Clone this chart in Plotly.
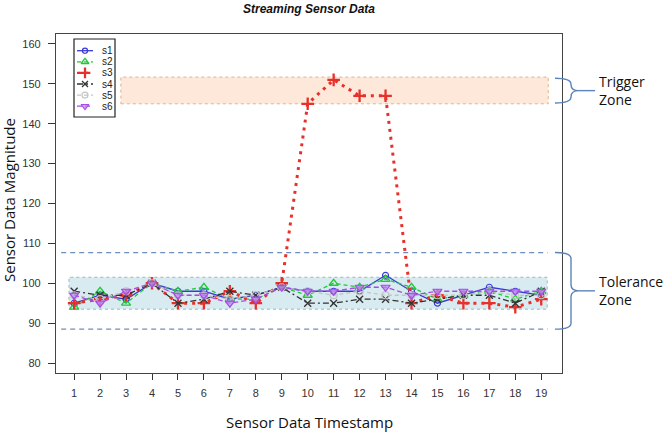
import plotly.graph_objects as go

# ---------------- data ----------------
timestamps = list(range(1, 20))
s1 = [95, 97, 96, 100, 98, 98, 96, 97, 99, 98, 98, 98, 102, 98, 95, 97, 99, 98, 97]
s2 = [94, 98, 95, 100, 98, 99, 96, 96, 99, 97, 100, 99, 101, 99, 96, 97, 98, 96, 98]
s3 = [95, 96, 97, 100, 95, 95, 98, 95, 100, 145, 151, 147, 147, 95, 97, 95, 95, 94, 96]
s4 = [98, 97, 97, 100, 95, 96, 98, 97, 99, 95, 95, 96, 96, 95, 96, 97, 97, 95, 98]
s5 = [97, 96, 98, 100, 97, 97, 96, 97, 99, 98, 97, 98, 97, 97, 97, 97, 98, 97, 97]
s6 = [97, 95, 98, 100, 97, 97, 95, 96, 99, 98, 98, 99, 99, 97, 98, 98, 98, 98, 98]
series_names = ["s1", "s2", "s3", "s4", "s5", "s6"]
series_values = [s1, s2, s3, s4, s5, s6]

trigger_zone = [145, 151.7]
trigger_x = [2.8, 19.27]
tolerance_zone = [93.5, 101.5]
tolerance_x = [0.8, 19.23]
tolerance_limits = [88.5, 107.7]
limit_x = [0.5, 19.25]

y_ticks = [80, 90, 100, 110, 120, 130, 140, 150, 160]
x_range = [0.3, 19.8]
y_range = [77.5, 162.5]

# ---------------- styles ----------------
styles = [
    dict(color="#3a3ad6", dash="solid", width=1.3, symbol="circle-open", size=6, mline=1.2, mcolor="#3a3ad6"),
    dict(color="#22c83a", dash="4px,3px", width=1.3, symbol="triangle-up-open", size=8, mline=1.3, mcolor="#22c83a"),
    dict(color="#e8302a", dash="3px,5px", width=3, symbol="cross-thin", size=9, mline=2.3, mcolor="#e8302a"),
    dict(color="#333333", dash="6px,3px,2px,3px", width=1.3, symbol="x-thin", size=7, mline=1.3, mcolor="#333333"),
    dict(color="#c4c4c4", dash="4px,3px", width=1.3, symbol="circle-open", size=7, mline=1.2, mcolor="#c4c4c4"),
    dict(color="#a64ce6", dash="5px,3px", width=1.3, symbol="triangle-down", size=8, mline=1.2, mcolor="rgba(190,140,240,0.75)"),
]

fig = go.Figure()

# plot area pixel frame (layout)
W, H = 670, 436
ML, MR, MT, MB = 56, 108, 34, 63
PL, PR, PT, PB = ML, W - MR, MT, H - MB


def yfrac(v):
    return (v - y_range[0]) / (y_range[1] - y_range[0])


def pxx(px):
    return (px - PL) / (PR - PL)


def pxy(py):
    return 1 - (py - PT) / (PB - PT)


for name, vals, st in zip(series_names, series_values, styles):
    fig.add_trace(go.Scatter(
        x=timestamps, y=vals, name=name, mode="lines+markers",
        line=dict(color=st["color"], dash=st["dash"], width=st["width"]),
        marker=dict(symbol=st["symbol"], size=st["size"], color=st["mcolor"],
                    line=dict(color=st["color"], width=st["mline"])),
        showlegend=False, cliponaxis=False,
    ))

shapes = []
# trigger zone
shapes.append(dict(type="rect", xref="x", yref="y", x0=trigger_x[0], x1=trigger_x[1],
                   y0=trigger_zone[0], y1=trigger_zone[1], fillcolor="#fde8da",
                   line=dict(color="#e0b48f", width=1, dash="dot"), layer="below"))
# tolerance zone
shapes.append(dict(type="rect", xref="x", yref="y", x0=tolerance_x[0], x1=tolerance_x[1],
                   y0=tolerance_zone[0], y1=tolerance_zone[1], fillcolor="#d8ebf0",
                   line=dict(color="#9fb5bb", width=1, dash="dot"), layer="below"))
for lim in tolerance_limits:
    shapes.append(dict(type="line", xref="x", yref="y", x0=limit_x[0], x1=limit_x[1],
                       y0=lim, y1=lim, line=dict(color="#6f8fbb", width=1.3, dash="5px,4px"),
                       layer="below"))


# braces (outside plot area, paper coords)
def brace(y_top, y_bot):
    x0, x1, x2, x3 = pxx(555), pxx(571), pxx(579), pxx(595)
    yt, yb = yfrac(y_top), yfrac(y_bot)
    ym = (yt + yb) / 2
    r = 6 / (PB - PT)
    path = (f"M {x0},{yt} Q {x1},{yt} {x1},{yt - r} L {x1},{ym + r} "
            f"Q {x1},{ym} {x2},{ym} Q {x1},{ym} {x1},{ym - r} L {x1},{yb + r} "
            f"Q {x1},{yb} {x0},{yb}")
    shapes.append(dict(type="path", xref="paper", yref="paper", path=path,
                       line=dict(color="#5b84b8", width=1.4)))
    shapes.append(dict(type="line", xref="paper", yref="paper", x0=x2, x1=x3, y0=ym, y1=ym,
                       line=dict(color="#5b84b8", width=1.4)))
    return ym


ym_trig = brace(trigger_zone[1] - 0.3, trigger_zone[0] + 0.2)
ym_tol = brace(tolerance_limits[1], tolerance_limits[0])

# custom compact legend (overlay pixel axes)
leg_box = dict(x0=74, x1=115, y0=39, y1=117)
shapes.append(dict(type="rect", xref="x2", yref="y2", x0=leg_box["x0"], x1=leg_box["x1"],
                   y0=leg_box["y0"], y1=leg_box["y1"], fillcolor="white",
                   line=dict(color="#222222", width=1.2), layer="below"))

annotations = []
for i, (name, st) in enumerate(zip(series_names, styles)):
    yy = 50.7 + i * 11.1
    fig.add_trace(go.Scatter(
        x=[77, 93], y=[yy, yy], mode="lines", xaxis="x2", yaxis="y2",
        line=dict(color=st["color"], dash=st["dash"], width=min(st["width"], 2.2)),
        showlegend=False, hoverinfo="skip"))
    fig.add_trace(go.Scatter(
        x=[85], y=[yy], mode="markers", xaxis="x2", yaxis="y2",
        marker=dict(symbol=st["symbol"], size=st["size"] * 0.85, color=st["mcolor"],
                    line=dict(color=st["color"], width=st["mline"])),
        showlegend=False, hoverinfo="skip"))
    annotations.append(dict(x=100, y=yy, xref="x2", yref="y2", text=name, showarrow=False,
                            xanchor="left", yanchor="middle",
                            font=dict(family="Liberation Sans", size=10, color="#222")))

# title and axis titles
annotations.append(dict(text="<b><i>Streaming Sensor Data</i></b>", xref="paper", yref="paper",
                        x=pxx(309), y=pxy(0), xanchor="center", yanchor="top", showarrow=False,
                        font=dict(family="Liberation Sans", size=12, color="#111")))
annotations.append(dict(text="Sensor Data Magnitude", xref="paper", yref="paper",
                        x=pxx(9), y=pxy(200), xanchor="center", yanchor="middle", textangle=-90,
                        showarrow=False, font=dict(family="Open Sans", size=15, color="#111")))
annotations.append(dict(text="Sensor Data Timestamp", xref="paper", yref="paper",
                        x=pxx(309), y=pxy(422), xanchor="center", yanchor="middle",
                        showarrow=False, font=dict(family="Open Sans", size=15, color="#111")))
# zone labels
annotations.append(dict(text="Trigger<br>Zone", xref="paper", yref="paper", x=pxx(597), y=ym_trig,
                        xanchor="left", yanchor="middle", align="left", showarrow=False,
                        font=dict(family="Open Sans", size=14, color="#111")))
annotations.append(dict(text="Tolerance<br>Zone", xref="paper", yref="paper", x=pxx(597), y=ym_tol,
                        xanchor="left", yanchor="middle", align="left", showarrow=False,
                        font=dict(family="Open Sans", size=14, color="#111")))

fig.update_layout(
    width=W, height=H,
    margin=dict(l=ML, r=MR, t=MT, b=MB, pad=0),
    paper_bgcolor="white", plot_bgcolor="white",
    shapes=shapes, annotations=annotations,
    xaxis=dict(range=x_range, tickmode="array", tickvals=timestamps,
               ticktext=[str(t) for t in timestamps], ticks="outside", ticklen=6,
               tickcolor="#333", showgrid=False, zeroline=False, showline=True, mirror=True,
               linecolor="#444", linewidth=1.3, ticklabelstandoff=4,
               tickfont=dict(family="Liberation Sans", size=11, color="#333")),
    yaxis=dict(range=y_range, tickmode="array", tickvals=y_ticks,
               ticktext=[str(t) for t in y_ticks], ticks="outside", ticklen=7,
               tickcolor="#333", showgrid=False, zeroline=False, showline=True, mirror=True,
               linecolor="#444", linewidth=1.3, ticklabelstandoff=5,
               tickfont=dict(family="Liberation Sans", size=11, color="#333")),
    xaxis2=dict(overlaying="x", range=[PL, PR], visible=False, fixedrange=True),
    yaxis2=dict(overlaying="y", range=[PB, PT], visible=False, fixedrange=True),
)

fig.write_html("out.html")
